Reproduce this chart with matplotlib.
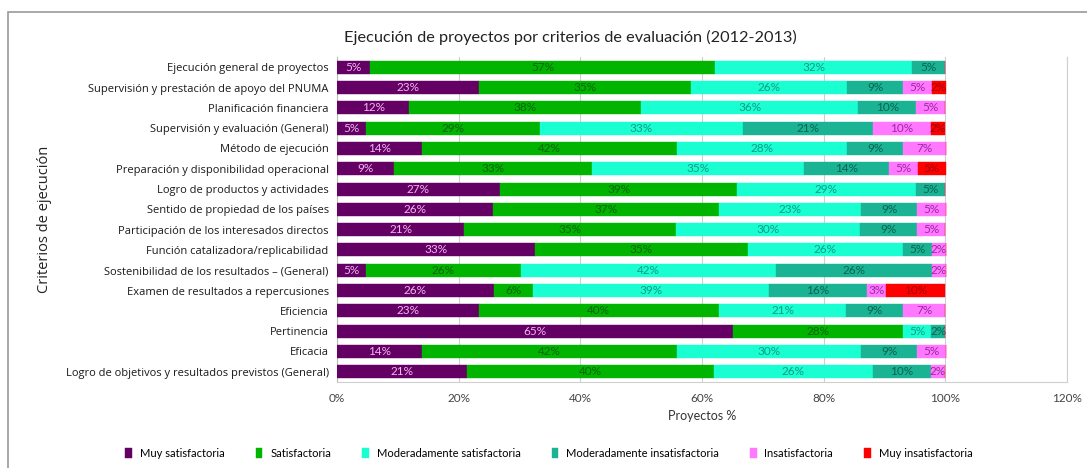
import numpy as np
import matplotlib
matplotlib.use("Agg")
import matplotlib.pyplot as plt
from matplotlib.patches import Rectangle

# categories, top to bottom
criterios = [
    "Ejecución general de proyectos",
    "Supervisión y prestación de apoyo del PNUMA",
    "Planificación financiera",
    "Supervisión y evaluación (General)",
    "Método de ejecución",
    "Preparación y disponibilidad operacional",
    "Logro de productos y actividades",
    "Sentido de propiedad de los países",
    "Participación de los interesados directos",
    "Función catalizadora/replicabilidad",
    "Sostenibilidad de los resultados – (General)",
    "Examen de resultados a repercusiones",
    "Eficiencia",
    "Pertinencia",
    "Eficacia",
    "Logro de objetivos y resultados previstos (General)",
]

niveles = ["Muy satisfactoria", "Satisfactoria", "Moderadamente satisfactoria",
           "Moderadamente insatisfactoria", "Insatisfactoria", "Muy insatisfactoria"]

# % of projects per level (same order as criterios)
muy_satisfactoria = [5.4, 23.3, 11.9, 4.8, 14.0, 9.3, 26.8, 25.6, 20.9, 32.6, 4.7, 25.8, 23.3, 65.1, 14.0, 21.4]
satisfactoria = [56.8, 34.9, 38.1, 28.6, 41.9, 32.6, 39.0, 37.2, 34.9, 34.9, 25.6, 6.5, 39.5, 27.9, 41.9, 40.5]
mod_satisfactoria = [32.4, 25.6, 35.7, 33.3, 27.9, 34.9, 29.3, 23.3, 30.2, 25.6, 41.9, 38.7, 20.9, 4.7, 30.2, 26.2]
mod_insatisfactoria = [5.4, 9.3, 9.5, 21.4, 9.3, 14.0, 4.9, 9.3, 9.3, 4.7, 25.6, 16.1, 9.3, 2.3, 9.3, 9.5]
insatisfactoria = [0, 4.7, 4.8, 9.5, 7.0, 4.65, 0, 4.7, 4.7, 2.3, 2.3, 3.2, 7.0, 0, 4.7, 2.4]
muy_insatisfactoria = [0, 2.3, 0, 2.4, 0, 4.65, 0, 0, 0, 0, 0, 9.7, 0, 0, 0, 0]

series = [muy_satisfactoria, satisfactoria, mod_satisfactoria,
          mod_insatisfactoria, insatisfactoria, muy_insatisfactoria]
colores = ["#640064", "#00b400", "#19ffd2", "#1ab394", "#ff78ff", "#ff0000"]
colores_txt = ["#f2b4f2", "#0a640a", "#139a86", "#0a6450", "#9a2aa0", "#a00000"]

narrow = ["Lato", "DejaVu Sans"]
plt.rcParams["font.family"] = ["Open Sans", "DejaVu Sans"]

fig = plt.figure(figsize=(10.87, 4.68), dpi=100)
fig.patches.append(Rectangle((0.007, -0.05), 1.05, 1.024, transform=fig.transFigure,
                             fill=False, edgecolor="#9a9a9a", linewidth=1.2))
ax = fig.add_axes([0.310, 0.184, 0.6716, 0.694])

y = np.arange(len(criterios))
left = np.zeros(len(criterios))
for vals, col, tcol, nom in zip(series, colores, colores_txt, niveles):
    vals = np.array(vals)
    ax.barh(y, vals, left=left, height=0.64, color=col, edgecolor=col,
            linewidth=0.3, label=nom, zorder=3)
    for yi, l, v in zip(y, left, vals):
        if v > 0:
            ax.text(l + v / 2, yi, f"{round(v):.0f}%", ha="center", va="center",
                    fontsize=8.5, color=tcol, family=narrow, zorder=4)
    left = left + vals

ax.set_xlim(0, 120)
ax.set_ylim(len(criterios) - 0.5, -0.5)
ax.set_xticks(np.arange(0, 121, 20))
ax.set_xticklabels([f"{t}%" for t in range(0, 121, 20)], family=narrow, fontsize=8.5, color="#444444")
ax.set_yticks(y)
ax.set_yticklabels(criterios, fontsize=8, color="#1a1a1a")
ax.tick_params(axis="both", length=0, pad=6)
ax.tick_params(axis="x", pad=8)
ax.grid(axis="x", color="#cfcfcf", linewidth=0.8, zorder=0)
ax.spines["top"].set_visible(False)
ax.spines["right"].set_color("#cfcfcf")
ax.spines["left"].set_color("#bbbbbb")
ax.spines["bottom"].set_color("#cfcfcf")

ax.set_xlabel("Proyectos %", family=narrow, fontsize=9, color="#333333", labelpad=4)
ax.set_ylabel("Criterios de ejecución", fontsize=10.5, color="#222222", labelpad=10)
fig.text(0.525, 0.92, "Ejecución de proyectos por criterios de evaluación (2012-2013)",
         ha="center", va="center", family=narrow, fontsize=11.7, color="#222222")

ax.legend(loc="center", bbox_to_anchor=(0.505, 0.032), bbox_transform=fig.transFigure,
          ncol=6, frameon=False, prop={"family": narrow, "size": 8},
          handlelength=0.6, handleheight=1.0, columnspacing=2.8, handletextpad=0.7)

fig.savefig("out.png", dpi=100)
